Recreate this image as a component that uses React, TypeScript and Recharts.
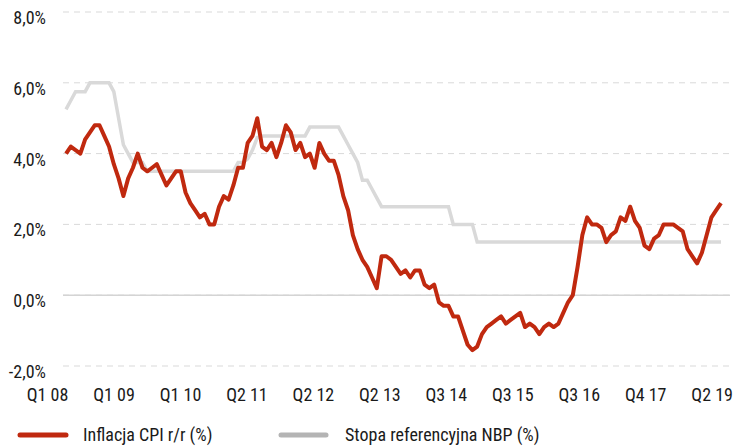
import { LineChart, Line, XAxis, YAxis, CartesianGrid, ReferenceLine, Legend } from 'recharts'

// monthly, Jan 2008 – Jun 2019
const cpi = [
  4.0, 4.2, 4.1, 4.0, 4.4, 4.6, 4.8, 4.8, 4.5, 4.2, 3.7, 3.3,
  2.8, 3.3, 3.6, 4.0, 3.6, 3.5, 3.6, 3.7, 3.4, 3.1, 3.3, 3.5,
  3.5, 2.9, 2.6, 2.4, 2.2, 2.3, 2.0, 2.0, 2.5, 2.8, 2.7, 3.1,
  3.6, 3.6, 4.3, 4.5, 5.0, 4.2, 4.1, 4.3, 3.9, 4.3, 4.8, 4.6,
  4.1, 4.3, 3.9, 4.0, 3.6, 4.3, 4.0, 3.8, 3.8, 3.4, 2.8, 2.4,
  1.7, 1.3, 1.0, 0.8, 0.5, 0.2, 1.1, 1.1, 1.0, 0.8, 0.6, 0.7,
  0.5, 0.7, 0.7, 0.3, 0.2, 0.3, -0.2, -0.3, -0.3, -0.6, -0.6, -1.0,
  -1.4, -1.55, -1.45, -1.1, -0.9, -0.8, -0.7, -0.6, -0.8, -0.7, -0.6, -0.5,
  -0.9, -0.8, -0.9, -1.1, -0.9, -0.8, -0.9, -0.8, -0.5, -0.2, 0.0, 0.8,
  1.7, 2.2, 2.0, 2.0, 1.9, 1.5, 1.7, 1.8, 2.2, 2.1, 2.5, 2.1,
  1.9, 1.4, 1.3, 1.6, 1.7, 2.0, 2.0, 2.0, 1.9, 1.8, 1.3, 1.1,
  0.9, 1.2, 1.7, 2.2, 2.4, 2.6,
]

const nbpRate = [
  5.25, 5.5, 5.75, 5.75, 5.75, 6.0, 6.0, 6.0, 6.0, 6.0, 5.75, 5.0,
  4.25, 4.0, 3.75, 3.75, 3.75, 3.5, 3.5, 3.5, 3.5, 3.5, 3.5, 3.5,
  3.5, 3.5, 3.5, 3.5, 3.5, 3.5, 3.5, 3.5, 3.5, 3.5, 3.5, 3.5,
  3.75, 3.75, 3.85, 4.1, 4.45, 4.5, 4.5, 4.5, 4.5, 4.5, 4.5, 4.5,
  4.5, 4.5, 4.5, 4.75, 4.75, 4.75, 4.75, 4.75, 4.75, 4.75, 4.5, 4.25,
  4.0, 3.75, 3.25, 3.25, 3.0, 2.75, 2.5, 2.5, 2.5, 2.5, 2.5, 2.5,
  2.5, 2.5, 2.5, 2.5, 2.5, 2.5, 2.5, 2.5, 2.5, 2.0, 2.0, 2.0,
  2.0, 2.0, 1.5, 1.5, 1.5, 1.5, 1.5, 1.5, 1.5, 1.5, 1.5, 1.5,
  1.5, 1.5, 1.5, 1.5, 1.5, 1.5, 1.5, 1.5, 1.5, 1.5, 1.5, 1.5,
  1.5, 1.5, 1.5, 1.5, 1.5, 1.5, 1.5, 1.5, 1.5, 1.5, 1.5, 1.5,
  1.5, 1.5, 1.5, 1.5, 1.5, 1.5, 1.5, 1.5, 1.5, 1.5, 1.5, 1.5,
  1.5, 1.5, 1.5, 1.5, 1.5, 1.5,
]

const quarterLabels = ['Q1 08', 'Q1 09', 'Q1 10', 'Q2 11', 'Q2 12', 'Q2 13', 'Q3 14', 'Q3 15', 'Q3 16', 'Q4 17', 'Q2 19']
const yTicks = [-2, 0, 2, 4, 6, 8]

const data = cpi.map((v, i) => ({ i, cpi: v, nbp: nbpRate[i] }))
const xTicks = quarterLabels.map((_, k) => -0.3 + k * 13.9)

const FONT = "'Liberation Sans Narrow', 'Roboto Condensed', 'DejaVu Sans Condensed', sans-serif"
const RED = '#c0290f'
const GREY = '#d9d9d9'

function XTick({ x, y, index }: any) {
  return (
    <text x={x - 17} y={y} dy={35} textAnchor="middle" fontFamily={FONT} fontSize={18} fill="#1a1a1a">
      {quarterLabels[index]}
    </text>
  )
}

function YTick({ x, y, payload }: any) {
  const label = payload.value.toFixed(1).replace('.', ',') + '%'
  return (
    <text x={x} y={y} dy={12} textAnchor="end" fontFamily={FONT} fontSize={18} fill="#1a1a1a">
      {label}
    </text>
  )
}

function ChartLegend() {
  return (
    <svg width={734} height={30} style={{ display: 'block' }}>
      <line x1={20} y1={17} x2={66} y2={17} stroke={RED} strokeWidth={5} strokeLinecap="round" />
      <text x={83} y={23} fontFamily={FONT} fontSize={18} fill="#1a1a1a">Inflacja CPI r/r (%)</text>
      <line x1={281} y1={17} x2={326} y2={17} stroke="#b4b4b4" strokeWidth={5} strokeLinecap="round" />
      <text x={345} y={23} fontFamily={FONT} fontSize={18} fill="#1a1a1a">Stopa referencyjna NBP (%)</text>
    </svg>
  )
}

export default function App() {
  return (
    <div style={{ width: 734, height: 446, background: '#fff' }}>
      <style>{'body{margin:0}'}</style>
      <LineChart width={734} height={446} data={data} margin={{ top: 12, right: 4, left: 0, bottom: 0 }}>
        <CartesianGrid vertical={false} stroke="#d9d9d9" strokeDasharray="6 5" />
        <ReferenceLine y={0} stroke="#d4d4d4" strokeWidth={1.5} />
        <XAxis
          dataKey="i"
          type="number"
          domain={[-0.63, 138.88]}
          ticks={xTicks}
          tick={<XTick />}
          axisLine={false}
          tickLine={false}
          tickSize={0}
          tickMargin={0}
          height={50}
          interval={0}
        />
        <YAxis
          domain={[-2, 8]}
          ticks={yTicks}
          tick={<YTick />}
          axisLine={false}
          tickLine={false}
          tickSize={0}
          tickMargin={17}
          width={63}
        />
        <Legend
          verticalAlign="bottom"
          content={() => <ChartLegend />}
          wrapperStyle={{ left: 0, top: 418, bottom: 'auto', width: 734, height: 30 }}
        />
        <Line
          dataKey="nbp"
          name="Stopa referencyjna NBP (%)"
          stroke={GREY}
          strokeWidth={3.5}
          dot={false}
          type="linear"
          isAnimationActive={false}
        />
        <Line
          dataKey="cpi"
          name="Inflacja CPI r/r (%)"
          stroke={RED}
          strokeWidth={4}
          strokeLinejoin="round"
          dot={false}
          type="linear"
          isAnimationActive={false}
        />
      </LineChart>
    </div>
  )
}
